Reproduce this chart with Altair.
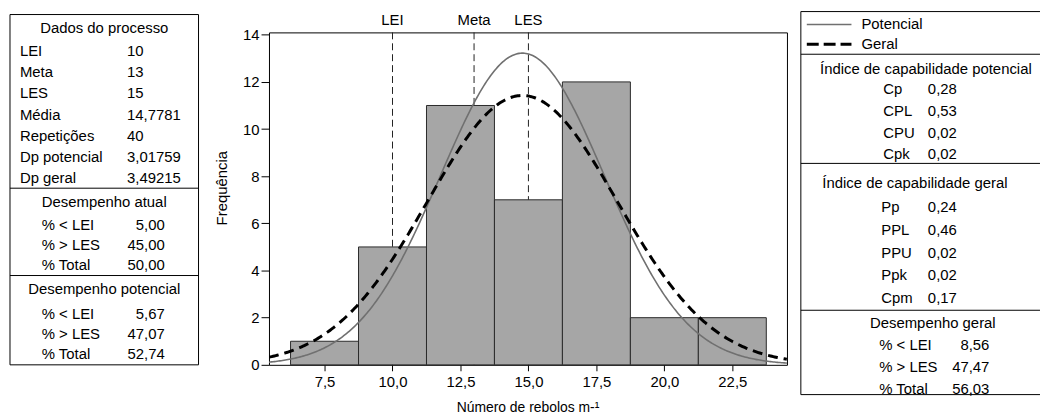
import altair as alt
import pandas as pd

# ---------------- data ----------------
bin_centers = [7.5, 10.0, 12.5, 15.0, 17.5, 20.0, 22.5]
bin_counts = [1, 5, 11, 7, 12, 2, 2]
bin_width = 2.5
n_obs = 40
mean_val = 14.7781
sd_pot = 3.01759
sd_ger = 3.49215
spec_names = ["LEI", "Meta", "LES"]
spec_values = [10, 13, 15]
x_ticks = [7.5, 10.0, 12.5, 15.0, 17.5, 20.0, 22.5]
y_ticks = [0, 2, 4, 6, 8, 10, 12, 14]

proc_labels = ["LEI", "Meta", "LES", "Média", "Repetições", "Dp potencial", "Dp geral"]
proc_values = ["10", "13", "15", "14,7781", "40", "3,01759", "3,49215"]
perf_labels = ["% < LEI", "% > LES", "% Total"]
atual_values = ["5,00", "45,00", "50,00"]
pot_perf_values = ["5,67", "47,07", "52,74"]
ger_perf_values = ["8,56", "47,47", "56,03"]
cap_pot_labels = ["Cp", "CPL", "CPU", "Cpk"]
cap_pot_values = ["0,28", "0,53", "0,02", "0,02"]
cap_ger_labels = ["Pp", "PPL", "PPU", "Ppk", "Cpm"]
cap_ger_values = ["0,24", "0,46", "0,02", "0,02", "0,17"]

# ---------------- layout ----------------
FONT = "Liberation Sans"
FS = 15
OX, OY = 271, 31          # page position of plot origin
W, H = 522, 335
XDOM = [5.456, 24.51]
YDOM = [0, 14.1]

hist = pd.DataFrame({
    "lo": [c - bin_width / 2 for c in bin_centers],
    "hi": [c + bin_width / 2 for c in bin_centers],
    "count": bin_counts,
})
specs = pd.DataFrame({"name": spec_names, "value": spec_values})
one = pd.DataFrame({"k": [0]})

xs = alt.Scale(domain=XDOM, nice=False, zero=False)
ys = alt.Scale(domain=YDOM, nice=False, zero=False)

ref = alt.Chart(specs).mark_rule(color="#222222", strokeWidth=1, strokeDash=[7, 4]).encode(
    x=alt.X("value:Q", scale=xs),
    y=alt.value(0), y2=alt.value(H))

ref_lab = alt.Chart(specs).mark_text(font=FONT, fontSize=FS, color="black", baseline="middle").encode(
    x=alt.X("value:Q", scale=xs), y=alt.value(19 - OY), text="name:N")

bars = alt.Chart(hist).mark_rect(fill="#a6a6a6", stroke="#2a2a2a", strokeWidth=1).encode(
    x=alt.X("lo:Q", scale=xs,
            axis=alt.Axis(values=x_ticks, labelExpr="replace(format(datum.value,'.1f'),'.',',')",
                          title=None, grid=False, domain=False, tickSize=6, labelPadding=4,
                          labelFont=FONT, labelFontSize=FS, labelColor="black", tickColor="black")),
    x2="hi:Q",
    y=alt.Y("count:Q", scale=ys,
            axis=alt.Axis(values=y_ticks, title=None, grid=False, domain=False, tickSize=8, labelPadding=2,
                          labelFont=FONT, labelFontSize=FS, labelColor="black", tickColor="black")),
    y2=alt.datum(0))

scale_n = n_obs * bin_width
def dens(sd):
    return (f"{scale_n}/({sd}*sqrt(2*PI))*exp(-0.5*pow((datum.x-{mean_val})/{sd},2))")

curve_src = alt.Chart(alt.sequence(XDOM[0], XDOM[1] + 0.01, 0.05, as_="x"))
pot_line = curve_src.transform_calculate(yv=dens(sd_pot)).mark_line(
    color="#707070", strokeWidth=1.6, clip=True).encode(x=alt.X("x:Q", scale=xs), y=alt.Y("yv:Q", scale=ys))
ger_line = curve_src.transform_calculate(yv=dens(sd_ger)).mark_line(
    color="black", strokeWidth=3, strokeDash=[10, 6], clip=True).encode(x=alt.X("x:Q", scale=xs), y=alt.Y("yv:Q", scale=ys))

# ---------------- tables (page coordinates) ----------------
texts = []  # (text, x, y, align)
texts.append(("Dados do processo", 105, 27, "center"))
for i, (l, v) in enumerate(zip(proc_labels, proc_values)):
    y = 50 + 21.3 * i
    texts.append((l, 20, y, "left"))
    texts.append((v, 128, y, "left"))
texts.append(("Desempenho atual", 105, 202, "center"))
for i, (l, v) in enumerate(zip(perf_labels, atual_values)):
    y = 225 + 20 * i
    texts.append((l, 42, y, "left"))
    texts.append((v, 166, y, "right"))
texts.append(("Desempenho potencial", 105, 290, "center"))
for i, (l, v) in enumerate(zip(perf_labels, pot_perf_values)):
    y = 315 + 20 * i
    texts.append((l, 42, y, "left"))
    texts.append((v, 166, y, "right"))

texts.append(("Potencial", 868, 23, "left"))
texts.append(("Geral", 868, 43, "left"))
texts.append(("Índice de capabilidade potencial", 933, 68, "center"))
for i, (l, v) in enumerate(zip(cap_pot_labels, cap_pot_values)):
    y = 88 + 22 * i
    texts.append((l, 890, y, "left"))
    texts.append((v, 935, y, "left"))
texts.append(("Índice de capabilidade geral", 922, 183, "center"))
for i, (l, v) in enumerate(zip(cap_ger_labels, cap_ger_values)):
    y = 207 + 23 * i
    texts.append((l, 888, y, "left"))
    texts.append((v, 935, y, "left"))
texts.append(("Desempenho geral", 940, 324, "center"))
for i, (l, v) in enumerate(zip(perf_labels, ger_perf_values)):
    y = 346 + 22 * i
    texts.append((l, 886, y, "left"))
    texts.append((v, 997, y, "right"))

tdf = pd.DataFrame(texts, columns=["text", "px", "py", "align"])
tdf["px"] = tdf["px"] - OX
tdf["py"] = tdf["py"] - OY

text_layers = []
for a in ["left", "center", "right"]:
    text_layers.append(
        alt.Chart(tdf[tdf["align"] == a]).mark_text(align=a, baseline="middle", font=FONT, fontSize=FS, color="black").encode(
            x=alt.X("px:Q", scale=None, axis=None),
            y=alt.Y("py:Q", scale=None, axis=None),
            text="text:N"))

segs = [
    # left table
    (10, 13, 200, 13), (10, 366, 200, 366), (10, 13, 10, 366), (200, 13, 200, 366),
    (10, 188, 200, 188), (10, 276, 200, 276),
    # right table
    (807, 10, 1048, 10), (807, 396, 1048, 396), (807, 10, 807, 396),
    (807, 53, 1048, 53), (807, 163, 1048, 163), (807, 311, 1048, 311),
]
sdf = pd.DataFrame(segs, columns=["x1", "y1", "x2", "y2"])
sdf[["x1", "x2"]] -= OX
sdf[["y1", "y2"]] -= OY
borders = alt.Chart(sdf).mark_rule(color="black", strokeWidth=1).encode(
    x=alt.X("x1:Q", scale=None, axis=None), x2="x2:Q",
    y=alt.Y("y1:Q", scale=None, axis=None), y2="y2:Q")

leg_pot = alt.Chart(one).mark_rule(color="#707070", strokeWidth=1.6).encode(
    x=alt.value(813 - OX), x2=alt.value(858 - OX), y=alt.value(23 - OY))
leg_ger = alt.Chart(one).mark_rule(color="black", strokeWidth=3, strokeDash=[12, 5]).encode(
    x=alt.value(813 - OX), x2=alt.value(858 - OX), y=alt.value(43 - OY))

ytitle = alt.Chart(one).mark_text(text="Frequência", angle=270, font=FONT, fontSize=FS, color="black",
                                  baseline="middle", align="center").encode(
    x=alt.value(224 - OX), y=alt.value(188 - OY))
xtitle = alt.Chart(one).mark_text(text="Número de rebolos m-¹", font=FONT, fontSize=14, color="black",
                                  baseline="middle", align="center").encode(
    x=alt.value(532 - OX), y=alt.value(410 - OY))

chart = alt.layer(
    ref, bars, pot_line, ger_line, ref_lab, borders, leg_pot, leg_ger, ytitle, xtitle, *text_layers
).properties(
    width=W, height=H,
    background="white",
    padding={"left": OX - 8, "top": OY - 8, "right": 1048 - 8 - (OX - 8) - W, "bottom": 420 - 8 - (OY - 8) - H},
    autosize=alt.AutoSizeParams(type="none"),
).configure_view(stroke="black", strokeWidth=1)

chart.save("out.html", embed_options={"renderer": "svg", "actions": False})
